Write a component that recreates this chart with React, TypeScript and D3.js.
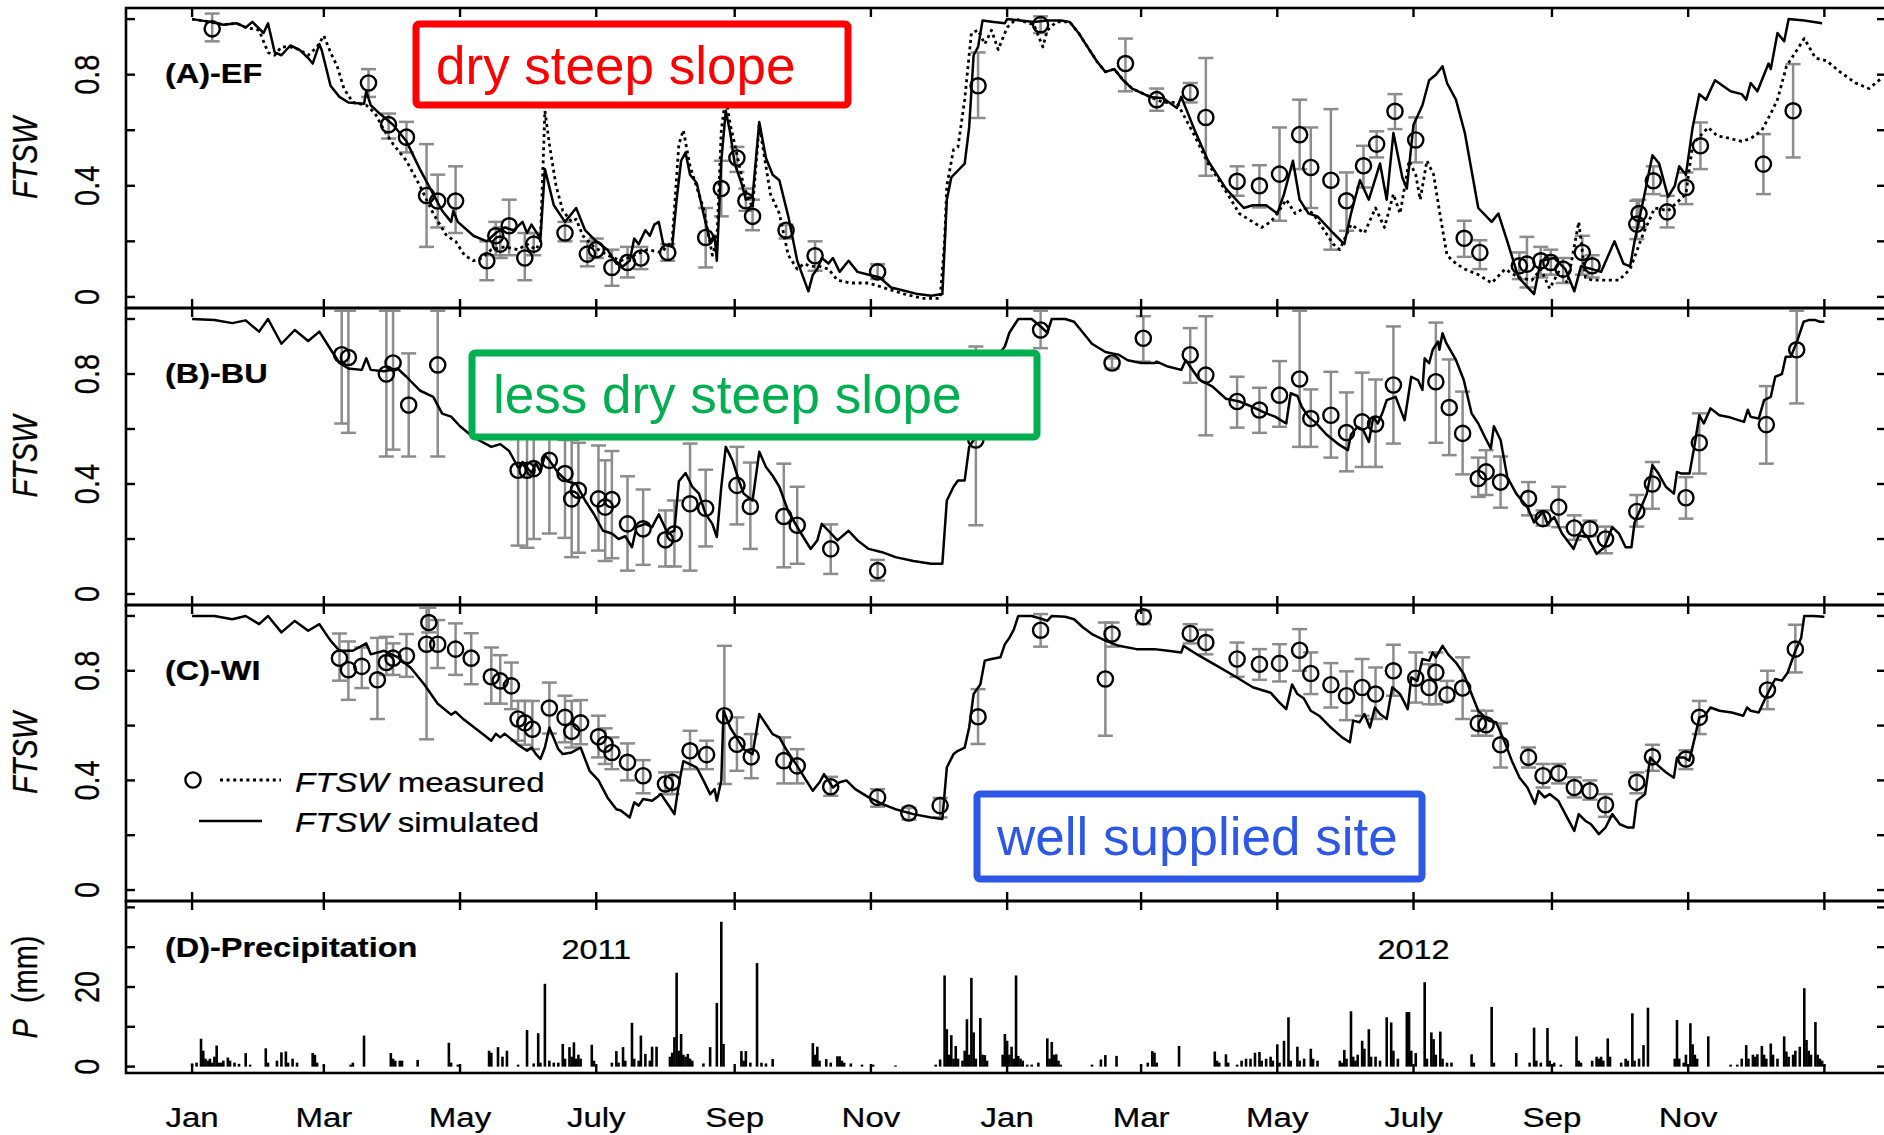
import React from 'react';
import * as d3 from 'd3';

type Pt = [number, number];
type Obs = [number, number, number, number]; // day, mean, lower, upper

// Days are counted from 1 January 2011.

// (A) EF – simulated FTSW
const SIM_A: Pt[] = [
  [0,1.0],[8,0.99],[14,0.98],[20,0.985],[24,0.97],[27,0.99],[32,0.95],[34,0.985],[37,0.88],[40,0.87],[44,0.905],[48,0.89],[52,0.86],[54,0.84],[57,0.91],[58,0.89],[62,0.76],[66,0.72],[70,0.70],[77,0.695],[78,0.74],[80,0.69],[84,0.66],[90,0.62],[96,0.56],[102,0.46],[108,0.37],[112,0.31],[116,0.27],[117,0.31],[119,0.27],[126,0.22],[132,0.20],[136,0.23],[140,0.25],[144,0.24],[148,0.27],[150,0.23],[152,0.26],[156,0.21],[158,0.46],[162,0.33],[167,0.27],[172,0.32],[176,0.24],[181,0.20],[186,0.17],[190,0.12],[193,0.11],[196,0.13],[198,0.21],[200,0.19],[203,0.24],[205,0.22],[207,0.26],[209,0.27],[211,0.19],[215,0.18],[217,0.35],[219,0.49],[221,0.52],[223,0.44],[226,0.41],[229,0.30],[232,0.20],[234,0.22],[235,0.13],[237,0.49],[239,0.67],[241,0.59],[243,0.48],[246,0.41],[248,0.35],[251,0.36],[254,0.63],[257,0.50],[260,0.44],[263,0.42],[267,0.29],[271,0.13],[276,0.02],[278,0.08],[280,0.10],[282,0.14],[285,0.12],[287,0.14],[290,0.09],[294,0.13],[298,0.09],[303,0.08],[308,0.07],[313,0.034],[319,0.022],[325,0.01],[331,0.004],[336,0.01],[338,0.35],[340,0.43],[343,0.455],[346,0.48],[348,0.61],[350,0.87],[352,0.90],[354,0.995],[359,0.99],[364,0.985],[365,1.0],[371,0.995],[377,0.99],[383,0.995],[389,0.995],[393,0.99],[397,0.95],[401,0.90],[405,0.85],[409,0.81],[413,0.82],[417,0.78],[421,0.75],[429,0.72],[435,0.715],[441,0.68],[443,0.72],[449,0.60],[455,0.49],[463,0.39],[471,0.32],[475,0.33],[481,0.33],[486,0.30],[489,0.37],[493,0.49],[496,0.35],[500,0.30],[504,0.29],[511,0.23],[516,0.19],[519,0.30],[523,0.42],[527,0.35],[532,0.48],[535,0.35],[538,0.59],[542,0.43],[544,0.39],[547,0.62],[551,0.69],[554,0.78],[557,0.80],[560,0.83],[562,0.77],[566,0.71],[570,0.59],[576,0.32],[582,0.27],[585,0.30],[589,0.20],[594,0.07],[601,0.01],[604,0.13],[610,0.14],[615,0.10],[619,0.02],[622,0.11],[627,0.10],[631,0.09],[637,0.20],[641,0.12],[644,0.11],[646,0.20],[651,0.39],[654,0.51],[657,0.48],[661,0.36],[664,0.40],[666,0.47],[669,0.44],[672,0.61],[675,0.73],[678,0.71],[682,0.78],[689,0.74],[694,0.73],[696,0.71],[698,0.77],[701,0.74],[706,0.84],[707,0.82],[710,0.95],[713,0.92],[715,1.0],[722,0.995],[730,0.985]
];

// (A) EF – continuous measured FTSW (dotted)
const MEAS_LINE_A: Pt[] = [
  [0,1.0],[8,0.99],[14,0.98],[20,0.985],[24,0.97],[30,0.96],[34,0.88],[37,0.87],[40,0.90],[44,0.90],[48,0.89],[52,0.87],[56,0.90],[59,0.94],[62,0.88],[65,0.83],[68,0.75],[72,0.70],[78,0.69],[82,0.66],[86,0.60],[90,0.55],[96,0.49],[102,0.40],[108,0.30],[114,0.22],[118,0.20],[122,0.15],[126,0.13],[130,0.14],[134,0.17],[140,0.18],[146,0.17],[150,0.19],[154,0.17],[156,0.20],[158,0.67],[160,0.55],[163,0.40],[166,0.31],[170,0.27],[172,0.28],[175,0.22],[180,0.18],[186,0.15],[192,0.13],[198,0.15],[204,0.17],[210,0.16],[215,0.20],[218,0.55],[220,0.60],[223,0.47],[229,0.32],[233,0.15],[235,0.20],[237,0.60],[239,0.72],[241,0.62],[243,0.55],[247,0.40],[251,0.32],[254,0.62],[256,0.52],[259,0.37],[263,0.30],[267,0.15],[271,0.10],[274,0.12],[277,0.11],[281,0.11],[285,0.10],[289,0.06],[295,0.05],[303,0.05],[311,0.03],[319,0.01],[327,-0.005],[335,-0.005],[337,0.20],[338,0.40],[341,0.53],[343,0.54],[346,0.71],[349,0.95],[352,0.96],[355,0.91],[358,0.96],[361,0.89],[365,0.97],[369,1.0],[377,0.98],[381,0.90],[383,0.96],[387,0.99],[393,0.99],[397,0.95],[401,0.90],[405,0.85],[409,0.81],[413,0.82],[417,0.78],[421,0.75],[429,0.72],[435,0.70],[441,0.70],[449,0.58],[455,0.48],[463,0.38],[469,0.30],[475,0.27],[479,0.25],[483,0.27],[486,0.30],[490,0.35],[494,0.30],[498,0.32],[502,0.30],[507,0.24],[511,0.19],[514,0.17],[519,0.26],[525,0.23],[530,0.32],[534,0.25],[538,0.37],[541,0.30],[545,0.49],[548,0.44],[550,0.35],[553,0.49],[556,0.44],[559,0.29],[562,0.15],[566,0.12],[570,0.10],[576,0.08],[582,0.05],[588,0.10],[594,0.07],[600,0.06],[604,0.10],[608,0.03],[612,0.09],[616,0.05],[621,0.27],[624,0.07],[627,0.06],[633,0.06],[639,0.06],[644,0.10],[650,0.23],[655,0.32],[661,0.31],[669,0.37],[672,0.55],[679,0.61],[683,0.58],[689,0.57],[694,0.56],[698,0.57],[703,0.60],[707,0.66],[710,0.71],[714,0.83],[718,0.88],[722,0.93],[727,0.86],[732,0.85],[738,0.81],[745,0.77],[751,0.75],[757,0.79]
];

// (A) EF – measured FTSW with error bars
const OBS_A: Obs[] = [
  [9,0.965,0.92,1.02],[79,0.77,0.72,0.82],[88,0.62,0.57,0.66],[96,0.575,0.52,0.63],[105,0.365,0.18,0.55],[110,0.345,0.25,0.44],[118,0.345,0.23,0.47],[132,0.13,0.06,0.2],[136,0.22,0.15,0.27],[138,0.19,0.14,0.25],[142,0.256,0.15,0.35],[149,0.14,0.06,0.23],[153,0.19,0.15,0.23],[167,0.23,0.2,0.27],[177,0.154,0.11,0.2],[181,0.17,0.14,0.21],[188,0.106,0.04,0.17],[195,0.124,0.07,0.18],[201,0.14,0.1,0.18],[213,0.16,0.13,0.19],[230,0.214,0.106,0.32],[237,0.39,0.29,0.49],[244,0.50,0.45,0.54],[248,0.346,0.31,0.39],[251,0.29,0.24,0.35],[266,0.24,0.21,0.26],[279,0.148,0.094,0.2],[307,0.09,0.064,0.118],[352,0.76,0.644,0.88],[380,0.98,0.95,1.01],[418,0.84,0.74,0.93],[432,0.71,0.67,0.75],[447,0.736,0.70,0.77],[454,0.646,0.436,0.86],[468,0.416,0.364,0.47],[478,0.40,0.322,0.474],[487,0.442,0.274,0.61],[496,0.584,0.46,0.71],[501,0.466,0.32,0.61],[510,0.42,0.17,0.676],[517,0.346,0.238,0.448],[524.6,0.472,0.394,0.544],[530.5,0.55,0.502,0.596],[538.7,0.668,0.604,0.73],[548,0.565,0.484,0.646],[569.7,0.211,0.144,0.274],[576.7,0.16,0.1,0.204],[594.4,0.112,0.064,0.16],[597.8,0.118,0.034,0.216],[604,0.13,0.07,0.18],[608.5,0.124,0.08,0.17],[614,0.1,0.05,0.14],[622.6,0.16,0.08,0.22],[627,0.112,0.07,0.15],[647,0.262,0.208,0.346],[648,0.30,0.25,0.35],[654.4,0.418,0.37,0.47],[660.6,0.306,0.25,0.364],[669,0.394,0.334,0.448],[675.5,0.544,0.46,0.628],[703.7,0.478,0.37,0.586],[717,0.67,0.502,0.838]
];

// (B) BU – simulated FTSW
const SIM_B: Pt[] = [
  [0,1.0],[10,0.996],[18,0.985],[24,0.995],[30,0.954],[34,1.0],[40,0.91],[46,0.96],[52,0.92],[57,0.954],[62,0.89],[66,0.84],[70,0.82],[76,0.815],[78,0.857],[80,0.815],[86,0.81],[92,0.82],[96,0.79],[102,0.74],[108,0.717],[112,0.656],[116,0.645],[120,0.61],[126,0.57],[134,0.535],[138,0.545],[142,0.52],[146,0.46],[148,0.48],[152,0.44],[154,0.475],[156,0.445],[158,0.505],[160,0.486],[164,0.44],[168,0.41],[172,0.40],[176,0.34],[180,0.29],[184,0.23],[188,0.22],[191,0.2],[194,0.21],[197,0.17],[199,0.243],[203,0.255],[206,0.243],[209,0.29],[213,0.22],[216,0.23],[218,0.41],[221,0.44],[224,0.39],[227,0.365],[230,0.29],[233,0.255],[235,0.207],[237,0.39],[239,0.535],[242,0.486],[245,0.41],[247,0.365],[251,0.34],[254,0.517],[257,0.462],[260,0.43],[263,0.39],[267,0.30],[272,0.23],[277,0.164],[280,0.195],[282,0.255],[285,0.23],[289,0.195],[294,0.23],[298,0.195],[303,0.164],[309,0.152],[315,0.134],[323,0.12],[331,0.11],[336,0.11],[338,0.34],[341,0.39],[343,0.413],[346,0.413],[348,0.535],[350,0.56],[354,0.7],[358,0.8],[362,0.88],[364,0.9],[366,0.95],[370,1.0],[376,1.0],[380,0.973],[383,0.95],[385,1.0],[391,1.0],[395,0.99],[399,0.95],[403,0.91],[409,0.88],[412,0.875],[415,0.87],[419,0.85],[425,0.84],[431,0.84],[432,0.845],[437,0.827],[443,0.815],[445,0.85],[451,0.78],[457,0.754],[463,0.71],[469,0.70],[475,0.68],[481,0.657],[485,0.645],[490,0.62],[492,0.73],[495,0.72],[497,0.68],[500,0.644],[503,0.625],[508,0.58],[513,0.547],[517.6,0.523],[519,0.58],[522,0.608],[524.5,0.596],[527,0.553],[529,0.644],[531,0.62],[533,0.657],[535,0.705],[539,0.717],[543,0.632],[546,0.79],[549,0.778],[551,0.742],[552,0.857],[554,0.839],[555.6,0.888],[558,0.918],[558.6,0.888],[560,0.948],[561.7,0.912],[566,0.851],[569.5,0.778],[573,0.657],[576,0.62],[579,0.57],[581.6,0.529],[583,0.61],[586,0.56],[589,0.425],[593,0.365],[598,0.316],[601,0.26],[605,0.30],[607,0.255],[610,0.28],[613.5,0.22],[618.7,0.164],[621,0.213],[625,0.207],[629,0.146],[632.5,0.17],[636,0.243],[639,0.22],[642,0.17],[644.6,0.17],[646,0.26],[649,0.316],[651.5,0.365],[654,0.468],[656.7,0.438],[660,0.39],[663.6,0.365],[665,0.444],[667,0.438],[670.6,0.438],[673,0.547],[675,0.65],[677,0.62],[680,0.675],[684,0.65],[688,0.644],[695,0.626],[696.7,0.67],[698,0.644],[701.6,0.638],[704,0.705],[707,0.717],[709,0.79],[712,0.80],[713.7,0.863],[716,0.863],[719,0.924],[721.7,0.99],[724,0.996],[727,0.996],[729,0.99],[731,0.99]
];

// (B) BU – measured FTSW with error bars
const OBS_B: Obs[] = [
  [67,0.87,0.62,1.03],[70,0.86,0.586,1.03],[87,0.80,0.50,1.03],[90,0.84,0.525,1.03],[97,0.687,0.50,0.875],[110,0.833,0.50,1.03],[146,0.45,0.176,0.62],[150,0.45,0.168,0.6],[153,0.456,0.2,0.6],[160,0.486,0.22,0.62],[167,0.438,0.204,0.56],[170,0.346,0.134,0.56],[173,0.377,0.15,0.55],[182,0.346,0.158,0.54],[185,0.316,0.12,0.486],[188,0.343,0.13,0.52],[195,0.255,0.085,0.428],[202,0.237,0.106,0.38],[212,0.197,0.10,0.304],[216,0.219,0.10,0.34],[223,0.328,0.085,0.547],[230,0.312,0.173,0.452],[244,0.395,0.253,0.535],[250,0.318,0.164,0.478],[265,0.282,0.097,0.474],[271,0.25,0.11,0.39],[286,0.164,0.073,0.253],[307,0.085,0.049,0.124],[351,0.56,0.25,0.9],[380,0.96,0.894,1.03],[412,0.84,0.82,0.857],[426,0.93,0.845,1.01],[447,0.87,0.768,0.967],[454,0.796,0.577,1.01],[468,0.70,0.605,0.79],[478,0.669,0.586,0.75],[487,0.723,0.608,0.847],[496,0.782,0.535,1.03],[501,0.638,0.535,0.744],[510,0.65,0.496,0.808],[517,0.587,0.446,0.733],[524,0.626,0.462,0.805],[530,0.618,0.462,0.78],[538,0.76,0.547,0.973],[557,0.772,0.55,0.987],[563,0.678,0.505,0.853],[569,0.584,0.435,0.736],[576,0.42,0.353,0.496],[579.5,0.444,0.36,0.523],[586,0.407,0.314,0.50],[598.5,0.347,0.286,0.407],[605,0.274,0.249,0.304],[612,0.316,0.243,0.39],[619,0.24,0.197,0.286],[626,0.237,0.21,0.267],[633,0.20,0.148,0.245],[647,0.30,0.245,0.36],[654,0.40,0.31,0.48],[669,0.35,0.274,0.425],[675,0.55,0.438,0.657],[705,0.616,0.474,0.756],[718.6,0.888,0.693,1.03]
];

// (C) WI – simulated FTSW
const SIM_C: Pt[] = [
  [0,1.0],[10,1.0],[18,0.988],[24,1.0],[30,0.97],[34,1.0],[40,0.94],[46,0.982],[52,0.946],[57,0.97],[62,0.91],[66,0.873],[72,0.873],[78,0.9],[80,0.86],[86,0.873],[92,0.85],[98,0.81],[104,0.75],[110,0.68],[116,0.64],[118,0.65],[122,0.62],[130,0.57],[134,0.545],[136,0.57],[138,0.557],[140,0.57],[142,0.557],[146,0.53],[150,0.508],[152,0.52],[154,0.496],[156,0.478],[158,0.52],[160,0.593],[164,0.514],[166,0.496],[170,0.502],[174,0.52],[178,0.435],[182,0.40],[186,0.338],[190,0.295],[192,0.29],[196,0.265],[198,0.32],[200,0.308],[202,0.332],[206,0.326],[208,0.338],[210,0.35],[212,0.326],[214,0.302],[216,0.277],[218,0.387],[220,0.47],[223,0.459],[226,0.447],[229,0.40],[232,0.35],[234,0.368],[235,0.326],[237,0.40],[238,0.654],[241,0.593],[247,0.514],[251,0.496],[254,0.642],[257,0.605],[260,0.569],[263,0.557],[266,0.514],[271,0.453],[275,0.40],[278,0.362],[281,0.393],[283,0.423],[287,0.374],[290,0.393],[293,0.40],[297,0.368],[303,0.338],[309,0.314],[315,0.295],[323,0.277],[331,0.265],[336,0.259],[338,0.447],[341,0.496],[343,0.508],[346,0.52],[348,0.593],[350,0.715],[353,0.75],[355,0.837],[358,0.843],[362,0.849],[364,0.897],[366,0.92],[368,0.95],[370,1.0],[376,1.0],[381,0.988],[383,0.982],[385,1.0],[391,0.997],[395,0.988],[399,0.958],[403,0.934],[409,0.91],[415,0.891],[423,0.879],[431,0.879],[437,0.873],[443,0.867],[444,0.891],[451,0.855],[459,0.818],[467,0.78],[475,0.74],[483,0.72],[487,0.684],[490,0.66],[492.6,0.75],[495,0.715],[497.8,0.70],[501,0.654],[504.7,0.636],[510,0.593],[515,0.557],[518.5,0.539],[520,0.618],[522.8,0.612],[525,0.642],[527.5,0.593],[529.7,0.666],[532,0.642],[535,0.624],[537.5,0.74],[541,0.715],[544.4,0.66],[546,0.776],[548.7,0.763],[551,0.843],[554,0.837],[555.6,0.867],[557,0.849],[560,0.891],[562.5,0.86],[566,0.83],[569.5,0.788],[573,0.715],[576,0.654],[580.7,0.618],[584,0.612],[587.6,0.545],[591,0.472],[594.5,0.41],[598,0.374],[601.4,0.314],[603,0.362],[605.7,0.338],[608,0.35],[611.8,0.326],[615,0.277],[619,0.216],[621,0.277],[623.9,0.253],[626.5,0.24],[630,0.204],[633,0.228],[636,0.277],[639.4,0.24],[643,0.228],[645.5,0.228],[647,0.326],[650.7,0.35],[653,0.484],[656.7,0.453],[660,0.43],[663.6,0.41],[665,0.484],[668,0.484],[670.5,0.472],[673,0.557],[675,0.63],[677.4,0.636],[680,0.666],[684,0.654],[689.5,0.648],[694.7,0.636],[696.4,0.666],[698,0.654],[701.6,0.648],[704,0.69],[707,0.74],[709,0.77],[712,0.764],[714.6,0.794],[718,0.873],[720.6,0.92],[722,1.0],[726,1.0],[731,0.997]
];

// (C) WI – measured FTSW with error bars
const OBS_C: Obs[] = [
  [66,0.846,0.764,0.936],[70,0.804,0.694,0.907],[76,0.816,0.737,0.885],[83,0.767,0.624,0.92],[87,0.83,0.785,0.924],[90,0.846,0.785,0.90],[96,0.855,0.778,0.934],[105,0.897,0.55,1.03],[106,0.976,0.94,1.03],[110,0.897,0.81,0.985],[118,0.879,0.785,0.973],[125,0.846,0.751,0.937],[134,0.778,0.68,0.885],[138,0.763,0.68,0.857],[143,0.745,0.66,0.83],[146,0.624,0.545,0.69],[149,0.61,0.53,0.69],[152.4,0.587,0.514,0.69],[160,0.664,0.571,0.757],[167,0.63,0.539,0.709],[170,0.579,0.52,0.69],[174,0.61,0.532,0.693],[182,0.559,0.484,0.636],[185,0.532,0.46,0.59],[188,0.502,0.441,0.557],[195,0.466,0.40,0.535],[202,0.417,0.353,0.474],[212,0.387,0.35,0.429],[215,0.393,0.35,0.43],[223,0.508,0.441,0.581],[230.4,0.494,0.441,0.545],[238.4,0.636,0.387,0.891],[244,0.532,0.435,0.63],[250.4,0.486,0.408,0.569],[265,0.472,0.389,0.557],[271,0.453,0.389,0.514],[286,0.377,0.344,0.413],[307,0.338,0.304,0.368],[321,0.281,0.257,0.30],[335,0.308,0.265,0.336],[352,0.632,0.533,0.733],[380,0.948,0.888,1.007],[409,0.77,0.563,0.976],[412,0.934,0.888,0.976],[426,0.997,0.97,1.02],[447,0.936,0.90,0.97],[454,0.903,0.86,0.95],[468,0.843,0.778,0.903],[478,0.824,0.767,0.879],[487,0.827,0.761,0.897],[496,0.875,0.80,0.952],[501,0.79,0.715,0.867],[510,0.749,0.666,0.828],[517,0.709,0.62,0.798],[524,0.739,0.636,0.843],[530,0.715,0.624,0.812],[538,0.80,0.709,0.895],[548,0.773,0.684,0.867],[554,0.739,0.678,0.824],[557,0.794,0.678,0.867],[562,0.712,0.69,0.763],[569,0.737,0.624,0.849],[576,0.608,0.563,0.654],[579.5,0.603,0.563,0.654],[586,0.53,0.447,0.608],[598.5,0.484,0.447,0.52],[605,0.417,0.374,0.46],[612,0.426,0.389,0.46],[619,0.374,0.338,0.411],[626,0.362,0.33,0.40],[633,0.311,0.267,0.35],[647,0.393,0.353,0.429],[654,0.486,0.435,0.53],[669,0.478,0.441,0.51],[675,0.63,0.569,0.69],[705.5,0.73,0.66,0.80],[718,0.879,0.794,0.968]
];

// (D) daily precipitation, mm
const PRECIP: Pt[] = [
  [0,0.8],[2,1],[4,7],[5,4],[6,2],[7,1.5],[8,2],[9,1],[10,2.5],[11,5.3],[12,1],[13,1],[14,1.5],[16,2.3],[17,1.5],[19,1],[21,0.7],[24,3.4],[26,0.5],[33,4.6],[34,1],[38,1.5],[40,3.6],[42,3.8],[43,1],[45,2],[47,1],[54,3.4],[55,3],[56,1],[59,0.3],[71,0.5],[72,1],[77,7.8],[89,3.4],[90,2],[91,1.5],[93,1.5],[94,1.5],[101,1.7],[115,6],[116,1],[119,0.5],[133,4],[134,3.5],[137,4.9],[139,2.5],[141,4],[146,0.5],[150,9.2],[153,0.8],[155,8.4],[156,1],[158,20.8],[160,1.5],[162,1],[164,1],[166,5.7],[167,2],[169,4.9],[170,2.5],[171,6.1],[172,2],[173,3],[174,2],[179,5.5],[180,1.5],[188,1],[190,3.9],[191,1],[193,4.9],[194,1.5],[197,11],[198,2],[200,1.5],[201,7.8],[203,3.2],[205,1.5],[206,5],[208,5],[214,2.5],[215,3.5],[216,7.4],[217,23.6],[218,4],[219,8.2],[220,3],[221,2.5],[222,3.2],[223,2],[224,1.5],[229,0.8],[232,4.9],[235,16],[237,36.4],[238,5.7],[246,3.9],[247,1.5],[248,3.9],[250,1],[253,26],[255,1],[257,0.8],[260,1.9],[278,5.9],[279,3],[280,5],[281,1.5],[284,1.9],[286,1],[289,2.6],[290,2.6],[291,1.5],[292,1],[295,0.8],[300,0.5],[305,0.5],[315,0.3],[333,0.5],[335,1.8],
  [337,22.9],[338,9.4],[339,3],[340,7.9],[341,2],[342,5.2],[343,2],[345,1.5],[346,4],[347,11.9],[348,3],[349,22.3],[350,8.6],[351,2],[353,12.2],[354,3],[355,2.9],[356,1.5],[363,3],[364,8.2],[365,6.5],[366,3],[367,5],[368,2],[369,22.9],[370,2.7],[371,2],[372,1.5],[374,0.5],[376,0.5],[379,1],[383,7.1],[384,2],[385,6.2],[386,3],[387,3.1],[388,1.5],[389,0.5],[403,0.5],[407,1.8],[409,2.9],[414,2.7],[425,0.3],[428,1],[430,3.9],[431,3.5],[432,1],[442,5.2],[458,3.8],[459,1.5],[460,1],[463,3.1],[464,1],[468,0.5],[470,1.5],[472,2],[474,2],[476,3.5],[478,3.7],[479,1.5],[481,2],[483,2.5],[484,1.5],[486,5.6],[487,1],[489,6.5],[491,12.4],[492,1.5],[495,5],[496,1.5],[498,2],[501,4.5],[502,2],[504,1.5],[514,1.5],[515,1],[516,4.2],[517,2],[519,13.9],[520,2.5],[521,1.5],[522,3],[524,6.5],[525,4.5],[527,9.4],[528,2.5],[530,2.5],[532,1.5],[535,12.4],[537,11.1],[538,4],[540,2],[544,13.7],[545,13.7],[546,4],[548,3.4],[552,21.2],[553,2],[555,8.6],[556,6.9],[557,3],[559,8.8],[560,2],[562,1],[564,1],[573,3.1],[574,1],[582,15],[583,1],[593,3.4],[599,1],[601,9.8],[602,1.5],[604,1],[607,9.7],[608,1.5],[610,1],[613,0.5],[620,7.6],[621,1.5],[622,1],[627,1.5],[629,2.5],[630,2],[631,2.5],[632,1.5],[634,7.1],[635,2.5],[640,1],[642,2],[643,1.5],[645,13.4],[646,1.5],[648,2],[650,5.4],[652,14.8],[664,2],[665,11.7],[666,2],[668,1],[669,3],[671,10.9],[672,5.6],[673,3],[674,2],[679,7.6],[689,0.5],[692,0.5],[694,2],[696,5.4],[697,2],[699,3],[700,2.5],[701,3.1],[703,5.2],[704,3],[705,2],[707,5.8],[708,3],[710,2],[713,7.6],[714,3.8],[715,2.5],[717,3],[718,4],[720,5],[722,19.7],[723,6.7],[724,4],[725,3],[727,11.2],[728,3],[729,2],[730,1.5],[731,0.5]
];

const MONTH_LABELS = ['Jan', 'Mar', 'May', 'July', 'Sep', 'Nov'];
const FTSW_TICKS = [0, 0.2, 0.4, 0.6, 0.8, 1.0];
const FTSW_TICK_LABELS = [0, 0.4, 0.8];
const P_TICKS = [0, 10, 20, 30, 40];
const P_TICK_LABELS = [0, 20];
const YEAR_LABELS: [string, number][] = [['2011', 181], ['2012', 547]];

const W = 1884;
const H = 1135;
const LEFT = 126;
const RIGHT = 1886;
const FONT = '"Liberation Sans", Arial, Helvetica, sans-serif';
const STRETCH = 1.18;
const TICK = 9;
const DOTS = '3 3.6';
const DAY0 = Date.UTC(2011, 0, 1);
const dayToDate = (d: number) => new Date(DAY0 + d * 86400000);

const x = d3.scaleUtc().domain([dayToDate(-29.6), dayToDate(758.6)]).range([LEFT, RIGHT]);
const xd = (d: number) => x(dayToDate(d));

const PANELS = [
  { id: 'A', label: '(A)-EF', top: 8, bottom: 308, labelY: 83, sim: SIM_A, obs: OBS_A, meas: MEAS_LINE_A },
  { id: 'B', label: '(B)-BU', top: 308, bottom: 605, labelY: 383, sim: SIM_B, obs: OBS_B, meas: null as Pt[] | null },
  { id: 'C', label: '(C)-WI', top: 605, bottom: 901, labelY: 680, sim: SIM_C, obs: OBS_C, meas: null as Pt[] | null },
];
const P_PANEL = { top: 901, bottom: 1073 };

const CALLOUTS = [
  { text: 'dry steep slope', color: '#ff0000', x0: 416, y0: 24, x1: 848, y1: 105, tx: 436, ty: 84 },
  { text: 'less dry steep slope', color: '#00b050', x0: 472, y0: 353, x1: 1037, y1: 437, tx: 493, ty: 413 },
  { text: 'well supplied site', color: '#2d57e6', x0: 977, y0: 794, x1: 1422, y1: 879, tx: 997, ty: 855 },
];

function SText(props: {
  x: number; y: number; size: number; rotate?: number; anchor?: string;
  weight?: string | number; italic?: boolean; children: React.ReactNode;
}) {
  const { x: tx, y: ty, size, rotate, anchor = 'start', weight = 'normal', italic, children } = props;
  const tr = `translate(${tx},${ty}) scale(${STRETCH},1)` + (rotate ? ` rotate(${rotate})` : '');
  return (
    <text transform={tr} fontSize={size} fontFamily={FONT} textAnchor={anchor as any}
      fontWeight={weight} fontStyle={italic ? 'italic' : 'normal'} fill="#000"
      stroke="#000" strokeWidth={0.25}>
      {children}
    </text>
  );
}

const monthTicks = d3.utcMonth.every(2)!.range(new Date(Date.UTC(2011, 0, 1)), new Date(Date.UTC(2013, 0, 2)));

function MonthTicks({ top, bottom }: { top: number; bottom: number }) {
  return (
    <g stroke="#000" strokeWidth={2.4}>
      {monthTicks.map((m, i) => (
        <g key={i}>
          <line x1={x(m)} x2={x(m)} y1={top} y2={top + TICK} />
          <line x1={x(m)} x2={x(m)} y1={bottom} y2={bottom - TICK} />
        </g>
      ))}
    </g>
  );
}

export default function App() {
  return (
    <svg width={W} height={H} viewBox={`0 0 ${W} ${H}`}
      style={{ position: 'absolute', left: 0, top: 0, display: 'block', background: '#fff' }}>
      <defs>
        {PANELS.map(p => (
          <clipPath id={`clip${p.id}`} key={p.id}>
            <rect x={LEFT} y={p.top} width={RIGHT - LEFT} height={p.bottom - p.top} />
          </clipPath>
        ))}
      </defs>

      {PANELS.map(p => {
        const y = d3.scaleLinear().domain([-0.04, 1.04]).range([p.bottom, p.top]);
        const line = d3.line<Pt>().x(d => xd(d[0])).y(d => y(d[1]));
        const mid = (p.top + p.bottom) / 2;
        return (
          <g key={p.id}>
            <g clipPath={`url(#clip${p.id})`}>
              {/* error bars */}
              <g stroke="#8c8c8c" strokeWidth={2.5} fill="none">
                {p.obs.map((o, i) => {
                  const cx = xd(o[0]);
                  return (
                    <g key={i}>
                      <line x1={cx} x2={cx} y1={y(o[2])} y2={y(o[3])} />
                      <line x1={cx - 7.5} x2={cx + 7.5} y1={y(o[2])} y2={y(o[2])} />
                      <line x1={cx - 7.5} x2={cx + 7.5} y1={y(o[3])} y2={y(o[3])} />
                    </g>
                  );
                })}
              </g>
              {p.meas && (
                <path d={line(p.meas) || ''} fill="none" stroke="#000" strokeWidth={2.8}
                  strokeDasharray={DOTS} strokeLinejoin="round" />
              )}
              <path d={line(p.sim) || ''} fill="none" stroke="#000" strokeWidth={2.5} strokeLinejoin="round" />
              <g fill="none" stroke="#000" strokeWidth={2.4}>
                {p.obs.map((o, i) => (
                  <circle key={i} cx={xd(o[0])} cy={y(o[1])} r={7.6} />
                ))}
              </g>
            </g>

            {/* axes */}
            <rect x={LEFT} y={p.top} width={RIGHT - LEFT} height={p.bottom - p.top}
              fill="none" stroke="#000" strokeWidth={2.6} />
            <g stroke="#000" strokeWidth={2.4}>
              {FTSW_TICKS.map(t => (
                <g key={t}>
                  <line x1={LEFT} x2={LEFT + TICK} y1={y(t)} y2={y(t)} />
                  <line x1={RIGHT} x2={RIGHT - TICK} y1={y(t)} y2={y(t)} />
                </g>
              ))}
            </g>
            <MonthTicks top={p.top} bottom={p.bottom} />
            {FTSW_TICK_LABELS.map(t => (
              <SText key={t} x={99} y={y(t)} size={29} rotate={-90} anchor="middle">{String(t)}</SText>
            ))}
            <SText x={37} y={mid} size={29} rotate={-90} anchor="middle" italic>FTSW</SText>
            <SText x={165} y={p.labelY} size={27.5} weight="bold">{p.label}</SText>
          </g>
        );
      })}

      {/* precipitation panel */}
      {(() => {
        const y = d3.scaleLinear().domain([-1.6, 41.6]).range([P_PANEL.bottom, P_PANEL.top]);
        return (
          <g>
            <g stroke="#000" strokeWidth={2.6}>
              {PRECIP.map((d, i) => (
                <line key={i} x1={xd(d[0])} x2={xd(d[0])} y1={y(0)} y2={y(d[1])} />
              ))}
            </g>
            <rect x={LEFT} y={P_PANEL.top} width={RIGHT - LEFT} height={P_PANEL.bottom - P_PANEL.top}
              fill="none" stroke="#000" strokeWidth={2.6} />
            <g stroke="#000" strokeWidth={2.4}>
              {P_TICKS.map(t => (
                <g key={t}>
                  <line x1={LEFT} x2={LEFT + TICK} y1={y(t)} y2={y(t)} />
                  <line x1={RIGHT} x2={RIGHT - TICK} y1={y(t)} y2={y(t)} />
                </g>
              ))}
            </g>
            <MonthTicks top={P_PANEL.top} bottom={P_PANEL.bottom} />
            {P_TICK_LABELS.map(t => (
              <SText key={t} x={99} y={y(t)} size={29} rotate={-90} anchor="middle">{String(t)}</SText>
            ))}
            <SText x={37} y={(P_PANEL.top + P_PANEL.bottom) / 2} size={29} rotate={-90} anchor="middle">
              <tspan fontStyle="italic">P</tspan>{'\u00a0\u00a0(mm)'}
            </SText>
            <SText x={165} y={957} size={27.5} weight="bold">(D)-Precipitation</SText>
            {YEAR_LABELS.map(([t, d]) => (
              <SText key={t} x={xd(d)} y={959} size={27.5} anchor="middle">{t}</SText>
            ))}
          </g>
        );
      })()}

      {/* month labels */}
      {monthTicks.filter(m => m.getUTCFullYear() < 2013).map((m, i) => (
        <SText key={i} x={x(m)} y={1127} size={28} anchor="middle">{MONTH_LABELS[m.getUTCMonth() / 2]}</SText>
      ))}

      {/* legend */}
      <g>
        <circle cx={193} cy={780} r={7.6} fill="none" stroke="#000" strokeWidth={2.4} />
        <line x1={220} x2={281} y1={780} y2={780} stroke="#000" strokeWidth={2.8} strokeDasharray={DOTS} />
        <SText x={295} y={792} size={28}><tspan fontStyle="italic">FTSW</tspan> measured</SText>
        <line x1={199} x2={262} y1={821} y2={821} stroke="#000" strokeWidth={2.5} />
        <SText x={295} y={832} size={28}><tspan fontStyle="italic">FTSW</tspan> simulated</SText>
      </g>

      {/* site annotations */}
      {CALLOUTS.map(c => (
        <g key={c.text}>
          <rect x={c.x0} y={c.y0} width={c.x1 - c.x0} height={c.y1 - c.y0} rx={3}
            fill="#fff" stroke={c.color} strokeWidth={7} />
          <text x={c.tx} y={c.ty} fontSize={53} fontFamily={FONT} fill={c.color}>{c.text}</text>
        </g>
      ))}
    </svg>
  );
}
